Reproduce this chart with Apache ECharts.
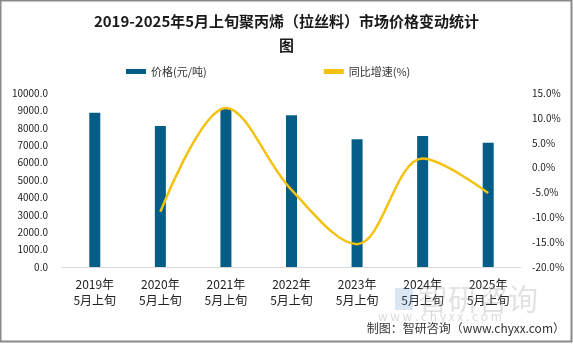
<!DOCTYPE html>
<html><head><meta charset="utf-8">
<script src="https://cdn.jsdelivr.net/npm/echarts@6/dist/echarts.min.js"></script>
<style>html,body{margin:0;padding:0;background:#fff}#c{width:573px;height:344px}</style>
</head><body><div id="c"></div>
<script>
var categories = ['2019年\n5月上旬','2020年\n5月上旬','2021年\n5月上旬','2022年\n5月上旬','2023年\n5月上旬','2024年\n5月上旬','2025年\n5月上旬'];
var prices = [8868, 8103, 9121, 8718, 7339, 7529, 7144];
var growth = [null, -8.9, 12.0, -4.5, -15.4, 1.8, -5.1];
var leftTicks = {min: 0, max: 10000, interval: 1000};
var rightTicks = {min: -20, max: 15, interval: 5};

var font = '"Noto Sans CJK SC", "Microsoft YaHei", sans-serif';
var chart = echarts.init(document.getElementById('c'));
chart.setOption({
  animation: false,
  textStyle: {fontFamily: font},
  title: {
    text: '2019-2025年5月上旬聚丙烯（拉丝料）市场价格变动统计\n图',
    left: 'center', top: 4,
    textStyle: {fontSize: 15, fontWeight: 'bold', color: '#1a1a1a', lineHeight: 24, fontFamily: font, align: 'center'}
  },
  legend: {
    top: 61, left: 121, itemGap: 117, itemWidth: 20, itemHeight: 5,
    textStyle: {fontSize: 11, color: '#333', fontFamily: font},
    data: [{name: '价格(元/吨)', icon: 'rect'}, {name: '同比增速(%)', icon: 'rect'}]
  },
  grid: {left: 62, right: 52, top: 93, bottom: 77},
  xAxis: {
    type: 'category', data: categories,
    axisLine: {lineStyle: {color: '#d9d9d9'}},
    axisTick: {show: false},
    axisLabel: {fontSize: 12, color: '#222', lineHeight: 16, margin: 9, interval: 0}
  },
  yAxis: [{
    type: 'value', min: leftTicks.min, max: leftTicks.max, interval: leftTicks.interval,
    splitLine: {show: false}, axisLine: {show: false}, axisTick: {show: false},
    axisLabel: {fontSize: 10, color: '#222', margin: 14, formatter: function(v){return v.toFixed(1);}}
  }, {
    type: 'value', min: rightTicks.min, max: rightTicks.max, interval: rightTicks.interval,
    splitLine: {show: false}, axisLine: {show: false}, axisTick: {show: false},
    axisLabel: {fontSize: 10, color: '#222', margin: 11, formatter: function(v){return v.toFixed(1) + '%';}}
  }],
  series: [{
    name: '价格(元/吨)', type: 'bar', data: prices, barWidth: 11,
    itemStyle: {color: '#035d87'}
  }, {
    name: '同比增速(%)', type: 'line', yAxisIndex: 1, data: growth,
    smooth: 0.35, showSymbol: false, symbol: 'none',
    lineStyle: {color: '#f4c10f', width: 2.5}, itemStyle: {color: '#f4c10f'}
  }],
  graphic: [
    {type: 'rect', shape: {x: 0.5, y: 0.5, width: 571, height: 341}, style: {fill: 'none', stroke: '#8a8a8a', lineWidth: 2}, z: 100},
    {type: 'text', left: 418, top: 284, style: {text: '智研咨询', font: '30px ' + font, fill: 'rgba(160,160,160,0.3)'}, z: 50},
    {type: 'rect', shape: {x: 395, y: 288, width: 18, height: 22}, style: {fill: 'rgba(90,140,200,0.22)'}, z: 50},
    {type: 'text', left: 378, top: 310, style: {text: 'w w w . c h y x x . c o m', font: '12px ' + font, fill: 'rgba(160,160,160,0.4)'}, z: 50},
    {type: 'text', right: 8, top: 322, style: {text: '制图：智研咨询（www.chyxx.com）', font: '12px ' + font, fill: '#333'}, z: 60}
  ]
});
</script></body></html>
